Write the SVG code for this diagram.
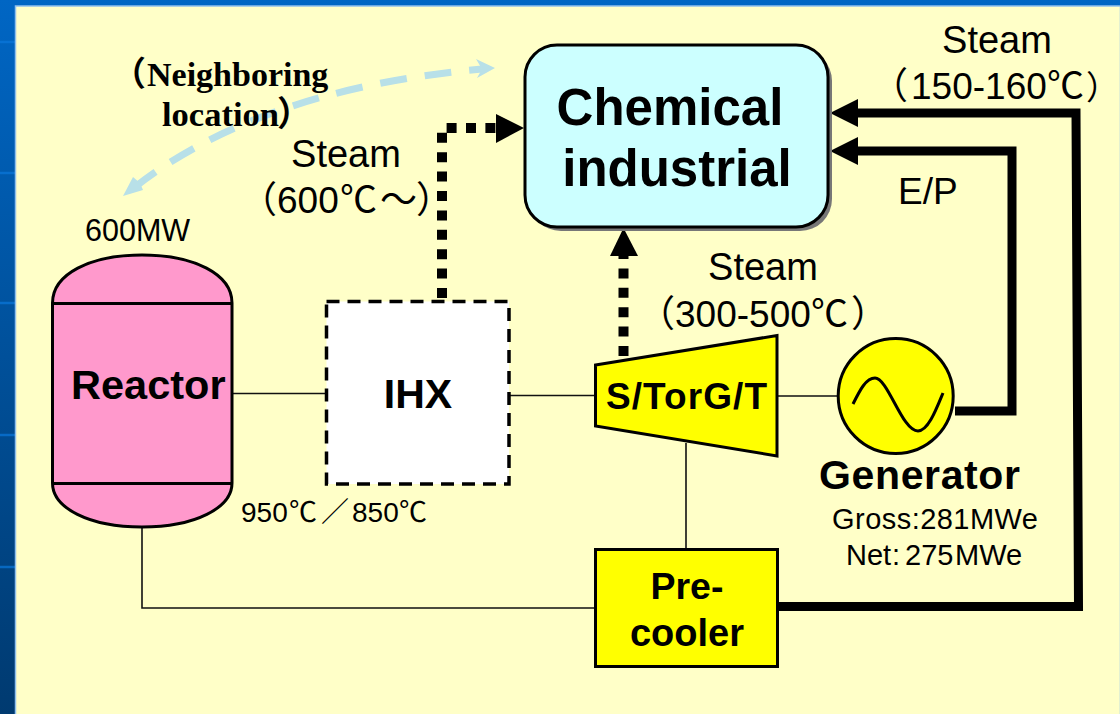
<svg xmlns="http://www.w3.org/2000/svg" width="1120" height="714" viewBox="0 0 1120 714">
<style>
.r{font-family:"Liberation Sans","Noto Sans CJK JP",sans-serif;fill:#000}
.b{font-family:"Liberation Sans","Noto Sans CJK JP",sans-serif;font-weight:700;fill:#000}
.s{font-family:"Liberation Serif","Noto Sans CJK JP",serif;font-weight:700;fill:#000}
.thin{fill:none;stroke:#111;stroke-width:1.6}
.thick{fill:none;stroke:#000;stroke-width:9;stroke-linejoin:miter}
.dot{fill:none;stroke:#000;stroke-width:10;stroke-dasharray:10 9.4}
.o{stroke:#000;stroke-width:3}
.lb{fill:#b8e0e8}
</style>
<defs>
<linearGradient id="bg" x1="0" y1="0" x2="0" y2="1"><stop offset="0" stop-color="#0066c4"/><stop offset="1" stop-color="#003a70"/></linearGradient>
</defs>
<rect width="1120" height="714" fill="url(#bg)"/>
<g stroke="#0a78dc" stroke-width="2.500" opacity=".7"><path d="M0 42H16M0 173H16M0 303H16M0 435H16M0 567H16"/></g>
<rect x="15.500" y="6" width="1105" height="709" fill="#ffffc8" stroke="#8fc0ee" stroke-width="1.500"/>
<g id="connectors">
<path class="thin" d="M233 393.500H326M509 395.500H595M778 396H838M686 443V549M142 527V608H595"/>
<path d="M482 69C380 78 240 105 135 187" fill="none" stroke="#b8e0e8" stroke-width="7" stroke-dasharray="27 18" stroke-dashoffset="14"/>
<path class="lb" d="M495 68L476 59L482 69L477 78Z"/>
<path class="lb" d="M123 196L133 177L140 183L143 190Z"/>
<path class="dot" d="M442 298V128H497"/>
<path d="M496 114L524 128L496 143Z"/>
<path class="dot" d="M623.500 356V256"/>
<path d="M623.500 228L610 256H638Z"/>
<path class="thick" d="M778 606.500H1078.500L1076 113H855"/>
<path d="M830 113L858 99V127Z"/>
<path class="thick" d="M955 411H1012V151H855"/>
<path d="M830 151L858 137V165Z"/>
</g>
<g id="node-chemical">
<rect x="529" y="49" width="303" height="182" rx="32" fill="#777"/>
<rect x="525" y="45" width="303" height="182" rx="32" fill="#ccffff" class="o"/>
<text class="b" x="670" y="125" font-size="51" text-anchor="middle">Chemical</text>
<text class="b" x="677" y="186" font-size="51" text-anchor="middle">industrial</text>
</g>
<g id="node-reactor">
<path d="M52.500 303C52.500 274 90 255 142 255S232 274 232 303V483C232 508 195 527 142 527S52.500 508 52.500 483Z" fill="#ff99cc" class="o"/>
<path d="M52.500 303.500H232M52.500 483.500H232" fill="none" class="o"/>
<text class="b" x="71" y="399" font-size="41.500">Reactor</text>
</g>
<g id="node-ihx">
<rect x="326.500" y="301.500" width="182.500" height="182.500" fill="#fff" stroke="#000" stroke-width="3.500" stroke-dasharray="13 8"/>
<text class="b" x="418" y="408" font-size="41" text-anchor="middle">IHX</text>
</g>
<g id="node-turbine">
<path d="M595.500 365L777 335.500V456L595.500 426Z" fill="#ffff00" class="o"/>
<text class="b" x="606" y="409" font-size="37" textLength="161">S/TorG/T</text>
</g>
<g id="node-generator">
<circle cx="895.700" cy="396" r="57.500" fill="#ffff00" class="o"/>
<path d="M853 404C860 390 866 378 875 378C888 378 902 431 918 431C928 431 936 410 943 393" fill="none" class="o"/>
<text class="b" x="819" y="489" font-size="41" textLength="201">Generator</text>
<text class="r" x="832" y="529" font-size="29" textLength="206">Gross:281MWe</text>
<text class="r" y="565" font-size="29"><tspan x="846">Net</tspan><tspan x="892">:</tspan><tspan x="905">275</tspan><tspan x="955">MWe</tspan></text>
</g>
<g id="node-precooler">
<rect x="595.500" y="549.500" width="182" height="117" fill="#ffff00" class="o"/>
<text class="b" x="687" y="599" font-size="37.500" text-anchor="middle">Pre-</text>
<text class="b" x="687" y="646" font-size="38" text-anchor="middle">cooler</text>
</g>
<g id="labels">
<text class="r" x="997" y="53" font-size="38" text-anchor="middle">Steam</text>
<text class="r" y="99" font-size="37"><tspan x="871">（</tspan><tspan x="911">150-160</tspan><tspan x="1047">℃</tspan><tspan x="1086" font-size="33">）</tspan></text>
<text class="r" x="898" y="204" font-size="37">E/P</text>
<text class="r" x="346" y="167" font-size="38" text-anchor="middle">Steam</text>
<text class="r" y="213" font-size="37"><tspan x="240">（</tspan><tspan x="277">600</tspan><tspan x="340">℃</tspan><tspan x="380">〜</tspan><tspan x="416">）</tspan></text>
<text class="r" x="763" y="280" font-size="38" text-anchor="middle">Steam</text>
<text class="r" y="327" font-size="37"><tspan x="638">（</tspan><tspan x="675">300-500</tspan><tspan x="811">℃</tspan><tspan x="851">）</tspan></text>
<text class="r" x="85" y="241" font-size="30.500">600MW</text>
<text class="r" y="522" font-size="28"><tspan x="241">950</tspan><tspan x="289">℃</tspan><tspan x="321">／</tspan><tspan x="352">850</tspan><tspan x="399">℃</tspan></text>
<text class="s" y="86" font-size="34"><tspan x="112">（</tspan><tspan x="147">Neighboring</tspan></text>
<text class="s" y="126" font-size="34.500"><tspan x="162">location</tspan><tspan x="277">）</tspan></text>
</g>
</svg>
